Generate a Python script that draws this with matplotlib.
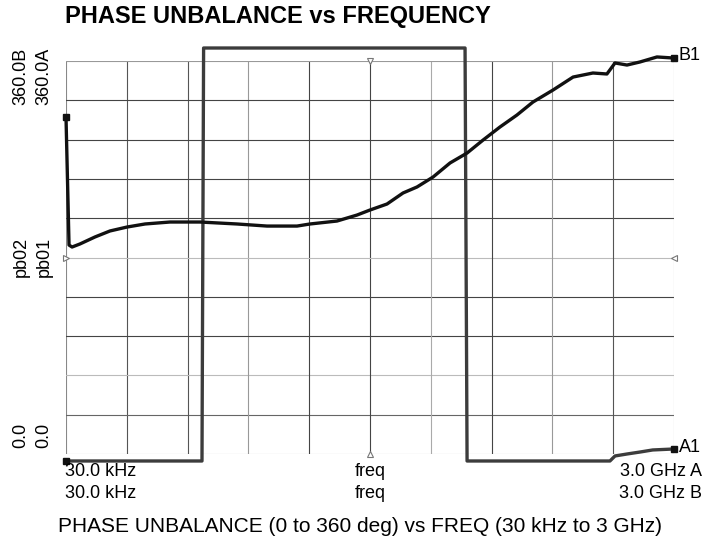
import matplotlib
matplotlib.use("Agg")
import matplotlib.pyplot as plt

plt.rcParams['font.family'] = ['Liberation Sans', 'DejaVu Sans']

# frequency in MHz (linear sweep 30 kHz .. 3 GHz), phase unbalance in degrees
freq_b = [0.03, 15, 30, 69, 143, 217, 301, 390, 513, 661, 844, 992, 1140, 1204,
          1337, 1436, 1500, 1584, 1663, 1732, 1811, 1895, 1979, 2058, 2141, 2225,
          2304, 2403, 2502, 2600, 2669, 2709, 2768, 2832, 2916, 3000]
phase_b = [308.7, 191.4, 189.6, 192.4, 198.8, 204.3, 207.9, 210.7, 212.5, 212.5,
           210.7, 208.8, 208.8, 210.7, 213.4, 218.9, 223.5, 229.0, 239.1, 244.6,
           253.7, 266.6, 275.7, 287.6, 299.5, 310.5, 322.4, 333.4, 345.3, 349.0,
           348.1, 358.2, 356.3, 359.1, 363.7, 362.7]

freq_a = [0.03, 671, 679, 1969, 1979, 2684, 2709, 2768, 2832, 2895, 3000]
phase_a = [-6.4, -6.4, 371.9, 371.9, -6.4, -6.4, -1.8, 0.0, 1.8, 3.7, 4.6]

W, H = 717, 540
fig = plt.figure(figsize=(W / 100, H / 100), dpi=100)
ax = fig.add_axes([66 / W, 1 - 454 / H, 608 / W, 393 / H])
ax.set_xlim(0.03, 3000)
ax.set_ylim(0, 360)

# graticule: 10 x 10 divisions, scanned look with mixed grey levels
vcol = ['#888888', '#555555', '#555555', '#999999', '#444444', '#444444',
        '#aaaaaa', '#444444', '#999999', '#555555', '#aaaaaa']
hcol = ['#aaaaaa', '#666666', '#bbbbbb', '#444444', '#444444', '#bbbbbb',
        '#444444', '#444444', '#444444', '#444444', '#999999']
for i in range(11):
    ax.axvline(0.03 + i * (3000 - 0.03) / 10, color=vcol[i], lw=0.8, zorder=1)
    ax.axhline(i * 36, color=hcol[i], lw=0.8, zorder=1)
for s in ax.spines.values():
    s.set_visible(False)
ax.set_xticks([])
ax.set_yticks([])

ax.plot(freq_a, phase_a, color='#3c3c3c', lw=2.4, clip_on=False, zorder=3)
ax.plot(freq_b, phase_b, color='#111111', lw=2.4, clip_on=False, zorder=4)
for fx, fy in [(freq_a[0], phase_a[0]), (freq_a[-1], phase_a[-1]),
               (freq_b[0], phase_b[0]), (freq_b[-1], phase_b[-1])]:
    ax.plot(fx, fy, marker='s', ms=4.5, color='#111111', clip_on=False, zorder=5)

# reference triangles on the frame
for mx, my, mk in [(1500, 360, 'v'), (1500, 0, '^'), (0.03, 180, '>'), (3000, 180, '<')]:
    ax.plot(mx, my, marker=mk, ms=5, mfc='white', mec='#777777', mew=0.8,
            clip_on=False, zorder=5)


def txt(x, y, s, **kw):
    fig.text(x / W, 1 - y / H, s, **kw)


txt(65, 17, 'PHASE UNBALANCE vs FREQUENCY', fontsize=17, fontweight='bold',
    ha='left', va='center')
txt(21, 76, '360.0B', fontsize=13, rotation=90, ha='center', va='center')
txt(44, 76, '360.0A', fontsize=13, rotation=90, ha='center', va='center')
txt(21, 257, 'pb02', fontsize=13, rotation=90, ha='center', va='center')
txt(44, 257, 'pb01', fontsize=13, rotation=90, ha='center', va='center')
txt(21, 435, '0.0', fontsize=13, rotation=90, ha='center', va='center')
txt(44, 435, '0.0', fontsize=13, rotation=90, ha='center', va='center')

txt(65, 472, '30.0 kHz', fontsize=13, ha='left', va='center')
txt(65, 494, '30.0 kHz', fontsize=13, ha='left', va='center')
txt(370, 472, 'freq', fontsize=13, ha='center', va='center')
txt(370, 494, 'freq', fontsize=13, ha='center', va='center')
txt(702, 472, '3.0 GHz A', fontsize=13, ha='right', va='center')
txt(702, 494, '3.0 GHz B', fontsize=13, ha='right', va='center')
txt(679, 56, 'B1', fontsize=13, ha='left', va='center')
txt(679, 448, 'A1', fontsize=13, ha='left', va='center')

txt(360, 526, 'PHASE UNBALANCE (0 to 360 deg) vs FREQ (30 kHz to 3 GHz)',
    fontsize=15, ha='center', va='center')

fig.savefig('out.png', dpi=100)
